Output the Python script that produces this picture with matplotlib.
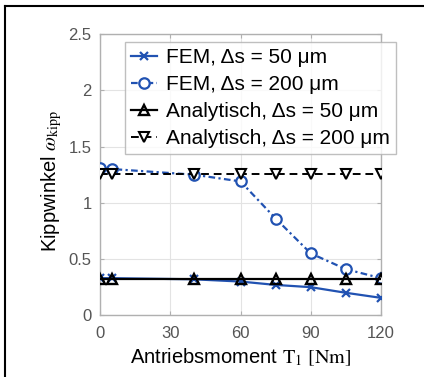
import matplotlib
matplotlib.use("Agg")
import matplotlib.pyplot as plt
from matplotlib.lines import Line2D

plt.rcParams["font.family"] = ["Liberation Sans", "DejaVu Sans"]
plt.rcParams["mathtext.fontset"] = "stix"

# Drive torque T1 [Nm]
torque = [0, 5, 40, 60, 75, 90, 105, 120]
fem_50 = [0.33, 0.33, 0.32, 0.30, 0.27, 0.25, 0.20, 0.155]
fem_200 = [1.305, 1.30, 1.25, 1.19, 0.86, 0.55, 0.41, 0.33]
ana_50 = [0.32, 0.32, 0.32, 0.32, 0.32, 0.32, 0.32, 0.32]
ana_200 = [1.26, 1.26, 1.26, 1.26, 1.26, 1.26, 1.26, 1.26]

labels = ["FEM, Δs = 50 μm", "FEM, Δs = 200 μm",
          "Analytisch, Δs = 50 μm", "Analytisch, Δs = 200 μm"]
xticks = [0, 30, 60, 90, 120]
yticks = [0, 0.5, 1, 1.5, 2, 2.5]
yticklabels = ["0", "0.5", "1", "1.5", "2", "2.5"]

blue = "#2152b2"

fig = plt.figure(figsize=(4.24, 3.77), dpi=100)
ax = fig.add_axes([100 / 424, 1 - 315.3 / 377, 281 / 424, 281.3 / 377])

ax.plot(torque, fem_50, color=blue, lw=1.6, marker="x", ms=6, mew=1.6,
        label=labels[0], zorder=3)
ax.plot(torque, fem_200, color=blue, lw=1.6, ls=(0, (3, 1.5, 1, 1.5)), marker="o",
        ms=7.5, mew=1.6, mfc="white", label=labels[1], zorder=3)
ax.plot(torque, ana_50, color="black", lw=1.6, marker="^", ms=7.5, mew=1.7,
        mfc="none", label=labels[2], zorder=4)
ax.plot(torque, ana_200, color="black", lw=1.4, ls=(0, (4, 2.5)), marker="v",
        ms=7.5, mew=1.5, mfc="white", label=labels[3], zorder=4)

ax.set_xlim(0, 120)
ax.set_ylim(0, 2.5)
ax.set_xticks(xticks)
ax.set_yticks(yticks)
ax.set_yticklabels(yticklabels)
ax.grid(True, color="#e3e3e3", lw=0.8)
ax.set_axisbelow(True)
for s in ax.spines.values():
    s.set_color("#b0b0b0")
    s.set_linewidth(1.0)
ax.tick_params(direction="in", length=3, top=True, right=True, color="#b0b0b0",
               labelsize=12, labelcolor="#555555")
ax.tick_params(axis="x", pad=8)
ax.tick_params(axis="y", pad=6)

ax.set_xlabel(r"Antriebsmoment $\mathrm{T_1\ [Nm]}$", fontsize=14.5, va="center")
ax.xaxis.set_label_coords(0.5, -0.148)
ax.set_ylabel(r"Kippwinkel $\omega_{\mathrm{kipp}}$", fontsize=14.5, va="center")
ax.yaxis.set_label_coords(-0.171, 0.477)

leg = ax.legend(loc="upper left", bbox_to_anchor=(125 / 424, 1 - 42 / 377),
                bbox_transform=fig.transFigure, borderaxespad=0, fontsize=15,
                frameon=True, fancybox=False, handlelength=1.25, handletextpad=0.4,
                labelspacing=0.38, borderpad=0.3)
leg.get_frame().set_edgecolor("#b0b0b0")
leg.get_frame().set_linewidth(1.0)

# cell border lines
fig.add_artist(Line2D([5 / 424, 1], [1 - 6 / 377, 1 - 6 / 377], color="black",
                      lw=1.5, transform=fig.transFigure))
fig.add_artist(Line2D([5 / 424, 5 / 424], [0, 1 - 6 / 377], color="black",
                      lw=1.5, transform=fig.transFigure))

fig.savefig("out.png", dpi=100)
